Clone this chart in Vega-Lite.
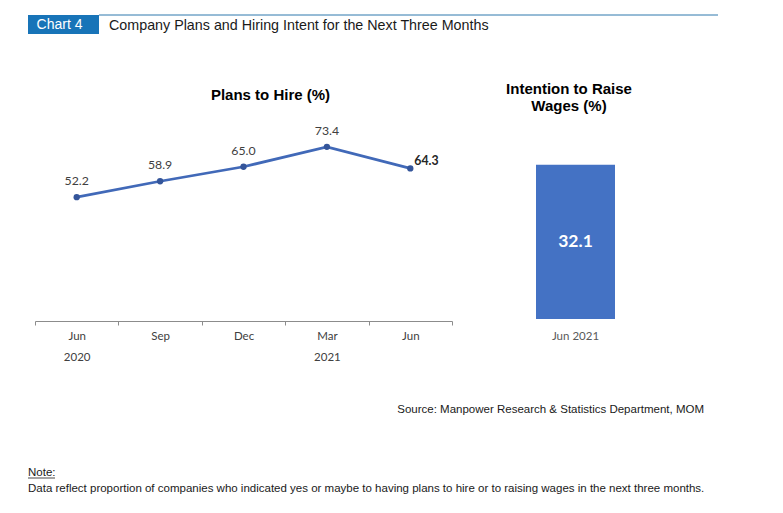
{
  "$schema": "https://vega.github.io/schema/vega-lite/v6.json",
  "padding": {"left": 27, "top": 14, "right": 0, "bottom": 0},
  "autosize": {"type": "pad"},
  "background": "white",
  "spacing": -7,
  "config": {"view": {"stroke": null}, "font": "Liberation Sans"},
  "datasets": {
    "hire": [
      {"period": "Jun 2020", "value": 52.2},
      {"period": "Sep 2020", "value": 58.9},
      {"period": "Dec 2020", "value": 65.0},
      {"period": "Mar 2021", "value": 73.4},
      {"period": "Jun 2021", "value": 64.3}
    ],
    "wages": [{"period": "Jun 2021", "value": 32.1}],
    "blank": [{}]
  },
  "vconcat": [
    {
      "hconcat": [
        {
          "width": 71, "height": 19,
          "view": {"fill": "#1874b8", "stroke": null},
          "data": {"values": [{"label": "Chart 4"}]},
          "mark": {"type": "text", "color": "white", "font": "Liberation Sans", "fontSize": 14, "dx": -4, "dy": 0.5, "baseline": "middle"},
          "encoding": {"text": {"field": "label"}}
        },
        {
          "width": 619, "height": 19,
          "data": {"values": [{"label": "Company Plans and Hiring Intent for the Next Three Months"}]},
          "layer": [
            {
              "mark": {"type": "rule", "color": "#2e78ad", "strokeWidth": 1},
              "encoding": {"y": {"datum": 1, "type": "quantitative", "scale": {"domain": [0, 1]}, "axis": null}}
            },
            {
              "mark": {"type": "text", "align": "left", "baseline": "middle", "dx": 10, "dy": 1, "font": "Liberation Sans", "fontSize": 14.3, "color": "#1a1a1a"},
              "encoding": {
                "x": {"datum": 0, "type": "quantitative", "scale": {"domain": [0, 1]}, "axis": null},
                "y": {"datum": 0.5, "type": "quantitative", "scale": {"domain": [0, 1]}, "axis": null},
                "text": {"field": "label"}
              }
            }
          ]
        }
      ],
      "spacing": 0,
      "bounds": "flush"
    },
    {
      "hconcat": [
        {"width": 7, "height": 370, "data": {"name": "blank"}, "mark": "text", "encoding": {}},
        {
          "width": 417, "height": 287,
          "title": {"text": "Plans to Hire (%)", "orient": "top", "anchor": "middle", "frame": "group", "baseline": "alphabetic", "offset": -81.4, "dx": 27, "font": "Liberation Sans", "fontSize": 15, "fontWeight": "bold", "color": "#000000"},
          "data": {"name": "hire"},
          "encoding": {
            "x": {"field": "period", "type": "ordinal", "sort": null,
              "scale": {"type": "band", "paddingInner": 0, "paddingOuter": 0},
              "axis": {"title": null, "labelAngle": 0, "tickBand": "extent", "tickSize": 4, "tickColor": "#8c8c8c", "domainColor": "#8c8c8c", "labelFont": "Lato", "labelFontSize": 11.5, "labelColor": "#404040", "labelPadding": 5.5, "labelLineHeight": 21,
                "labelExpr": "datum.label == 'Jun 2020' ? ['Jun', '2020'] : datum.label == 'Mar 2021' ? ['Mar', '2021'] : split(datum.label, ' ')[0]"}},
            "y": {"field": "value", "type": "quantitative", "scale": {"domain": [0, 120.94], "nice": false}, "axis": null}
          },
          "layer": [
            {"mark": {"type": "line", "color": "#4169b8", "strokeWidth": 2.75}},
            {"mark": {"type": "point", "filled": true, "size": 40, "color": "#34559a", "opacity": 1}},
            {
              "transform": [{"filter": "datum.period != 'Jun 2021'"}],
              "mark": {"type": "text", "font": "Lato", "fontSize": 12.3, "color": "#404040", "dy": -16, "baseline": "middle"},
              "encoding": {"text": {"field": "value", "type": "quantitative", "format": ".1f"}}
            },
            {
              "transform": [{"filter": "datum.period == 'Jun 2021'"}],
              "mark": {"type": "text", "font": "Lato", "fontSize": 12.3, "fontWeight": "bold", "color": "#262626", "align": "left", "dx": 4, "dy": -7.5, "baseline": "middle"},
              "encoding": {"text": {"field": "value", "type": "quantitative", "format": ".1f"}}
            }
          ]
        },
        {"width": 84, "height": 1, "data": {"name": "blank"}, "mark": "text", "encoding": {}},
        {
          "width": 79, "height": 285,
          "title": {"text": ["Intention to Raise", "Wages (%)"], "orient": "top", "anchor": "middle", "frame": "group", "baseline": "alphabetic", "offset": -92.4, "dx": -6.5, "lineHeight": 17, "font": "Liberation Sans", "fontSize": 15, "fontWeight": "bold", "color": "#000000"},
          "data": {"name": "wages"},
          "encoding": {
            "x": {"field": "period", "type": "nominal",
              "scale": {"paddingInner": 0, "paddingOuter": 0},
              "axis": {"title": null, "labelAngle": 0, "domain": false, "ticks": false, "labelPadding": 11, "labelFont": "Lato", "labelFontSize": 11.5, "labelColor": "#595959"}},
            "y": {"field": "value", "type": "quantitative", "scale": {"domain": [0, 59.29], "nice": false}, "axis": null}
          },
          "layer": [
            {"mark": {"type": "bar", "color": "#4472c4"}},
            {
              "mark": {"type": "text", "color": "white", "font": "Lato", "fontSize": 17.5, "fontWeight": "bold", "baseline": "middle", "dy": 77.5},
              "encoding": {"text": {"field": "value", "type": "quantitative", "format": ".1f"}}
            }
          ]
        }
      ],
      "spacing": 0,
      "bounds": "flush"
    },
    {
      "hconcat": [
        {
          "width": 27, "height": 74,
          "data": {"values": [{"label": "Note:"}]},
          "title": {"text": "Data reflect proportion of companies who indicated yes or maybe to having plans to hire or to raising wages in the next three months.", "orient": "bottom", "anchor": "start", "frame": "group", "offset": 4.5, "font": "Liberation Sans", "fontSize": 11.5, "fontWeight": "normal", "color": "#1a1a1a"},
          "layer": [
            {
              "mark": {"type": "rule", "color": "#1a1a1a", "strokeWidth": 0.8},
              "encoding": {"y": {"datum": 0, "type": "quantitative", "scale": {"domain": [0, 1]}, "axis": null}}
            },
            {
              "mark": {"type": "text", "align": "left", "baseline": "alphabetic", "dy": -2, "font": "Liberation Sans", "fontSize": 11.5, "color": "#1a1a1a"},
              "encoding": {
                "x": {"datum": 0, "type": "quantitative", "scale": {"domain": [0, 1]}, "axis": null},
                "y": {"datum": 0, "type": "quantitative", "scale": {"domain": [0, 1]}, "axis": null},
                "text": {"field": "label"}
              }
            }
          ]
        },
        {
          "width": 649, "height": 1,
          "data": {"name": "blank"},
          "mark": "text",
          "encoding": {},
          "title": {"text": "Source: Manpower Research & Statistics Department, MOM", "orient": "bottom", "anchor": "end", "frame": "group", "offset": -6, "font": "Liberation Sans", "fontSize": 11.5, "fontWeight": "normal", "color": "#1a1a1a"}
        }
      ],
      "spacing": 0,
      "bounds": "flush"
    }
  ]
}
